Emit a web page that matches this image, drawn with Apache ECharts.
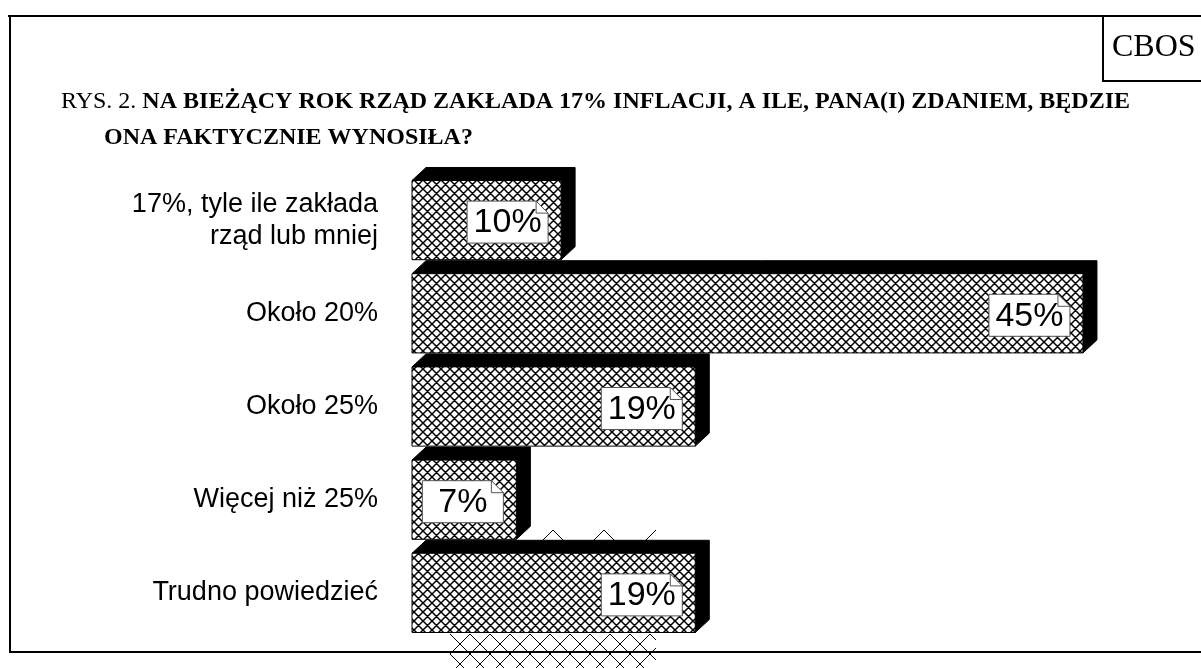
<!DOCTYPE html>
<html>
<head>
<meta charset="utf-8">
<script src="https://cdn.jsdelivr.net/npm/echarts@6/dist/echarts.min.js"></script>
<style>
html,body{margin:0;padding:0;background:#fff;}
#chart{width:1201px;height:668px;}
</style>
</head>
<body>
<div id="chart"></div>
<script>
const categories = ['17%, tyle ile zakłada\nrząd lub mniej', 'Około 20%', 'Około 25%', 'Więcej niż 25%', 'Trudno powiedzieć'];
const values = [10, 45, 19, 7, 19];
const titleLine1Regular = 'RYS. 2. ';
const titleLine1Bold = 'NA BIEŻĄCY ROK RZĄD ZAKŁADA 17% INFLACJI, A ILE, PANA(I) ZDANIEM, BĘDZIE';
const titleLine2Bold = 'ONA FAKTYCZNIE WYNOSIŁA?';
const sourceLabel = 'CBOS';

// crosshatch pattern
const P = 9;
const pc = document.createElement('canvas');
pc.width = P; pc.height = P;
const g = pc.getContext('2d');
g.fillStyle = '#fff'; g.fillRect(0, 0, P, P);
g.strokeStyle = '#000'; g.lineWidth = 1.5;
g.beginPath();
g.moveTo(-2, -2); g.lineTo(P + 2, P + 2);
g.moveTo(-2, P + 2); g.lineTo(P + 2, -2);
g.moveTo(-2, P - 2); g.lineTo(2, P + 2);
g.moveTo(P - 2, -2); g.lineTo(P + 2, 2);
g.moveTo(-2, 2); g.lineTo(2, -2);
g.moveTo(P - 2, P + 2); g.lineTo(P + 2, P - 2);
g.stroke();
const hatch = { image: pc, repeat: 'repeat' };

const chart = echarts.init(document.getElementById('chart'), null, { renderer: 'canvas' });

function renderItem(params, api) {
  const v = api.value(0);
  const cat = api.value(1);
  const s = api.coord([0, cat]);
  const e = api.coord([v, cat]);
  const band = api.size([0, 1])[1];
  const h = band * 0.85;
  const x0 = s[0], x1 = e[0], yc = s[1];
  const y0 = yc - h / 2, y1 = yc + h / 2;
  const dx = 14, dy = 13;
  const R = x1 - 13, W = 81, H = 42;
  const L = R - W, T = yc + 2 - H / 2, B = T + H;
  const f = 12;
  return {
    type: 'group',
    children: [
      { type: 'polygon', shape: { points: [[x0, y0], [x0 + dx, y0 - dy], [x1 + dx, y0 - dy], [x1 + dx, y1 - dy], [x1, y1], [x1, y0]] }, style: { fill: '#000', stroke: '#000', lineWidth: 1 } },
      { type: 'rect', shape: { x: x0, y: y0, width: x1 - x0, height: y1 - y0 }, style: { fill: hatch, stroke: '#000', lineWidth: 1 } },
      { type: 'polygon', shape: { points: [[L, T], [R - f, T], [R, T + f], [R, B], [L, B]] }, style: { fill: '#fff', stroke: '#555', lineWidth: 1 } },
      { type: 'polygon', shape: { points: [[R - f, T], [R - f, T + f], [R, T + f]] }, style: { fill: '#fff', stroke: '#555', lineWidth: 1 } },
      { type: 'text', style: { x: (L + R) / 2, y: (T + B) / 2 + 1, text: v + '%', fill: '#000', font: '34px "Liberation Sans", Arial, sans-serif', align: 'center', verticalAlign: 'middle' } }
    ]
  };
}

// decorative stray hatch lines (artifact in the original picture)
const deco = [];
(function () {
  const xl = 450, xr = 656, yt = 634, yb = 668;
  for (let k = -4; k < 14; k++) {
    const bx = xl + 20 * k;
    [[[bx, yt], [bx + (yb - yt), yb]], [[bx, yt], [bx - (yb - yt), yb]]].forEach(function (seg) {
      const a = seg[0], b = seg[1];
      const sl = (b[1] - a[1]) / (b[0] - a[0]);
      const lo = Math.min(a[0], b[0]), hi = Math.max(a[0], b[0]);
      const cl = Math.max(lo, xl), ch = Math.min(hi, xr);
      if (ch - cl > 1) {
        deco.push({ type: 'line', shape: { x1: cl, y1: a[1] + sl * (cl - a[0]), x2: ch, y2: a[1] + sl * (ch - a[0]) }, style: { stroke: '#000', lineWidth: 1 }, z: -1 });
      }
    });
  }
  [553, 604].forEach(function (px) {
    deco.push({ type: 'polyline', shape: { points: [[px - 11, 541], [px, 530], [px + 11, 541]] }, style: { stroke: '#000', fill: null, lineWidth: 1 }, z: -1 });
  });
  deco.push({ type: 'line', shape: { x1: 645, y1: 541, x2: 656, y2: 530 }, style: { stroke: '#000', lineWidth: 1 }, z: -1 });
})();

const serif = '"Liberation Serif", "Times New Roman", serif';
const option = {
  backgroundColor: '#fff',
  animation: false,
  title: [
    {
      left: 61, top: 90, padding: 0,
      text: '{r|' + titleLine1Regular + '}{b|' + titleLine1Bold + '}',
      textStyle: { rich: {
        r: { fontFamily: serif, fontSize: 24, fontWeight: 'normal', color: '#000', lineHeight: 24 },
        b: { fontFamily: serif, fontSize: 24, fontWeight: 'bold', color: '#000', lineHeight: 24 }
      } }
    },
    {
      left: 104, top: 126, padding: 0,
      text: '{b|' + titleLine2Bold + '}',
      textStyle: { rich: {
        b: { fontFamily: serif, fontSize: 24, fontWeight: 'bold', color: '#000', lineHeight: 24 }
      } }
    }
  ],
  graphic: [
    { type: 'line', shape: { x1: 8, y1: 16, x2: 1201, y2: 16 }, style: { stroke: '#000', lineWidth: 2 } },
    { type: 'line', shape: { x1: 10, y1: 15, x2: 10, y2: 653 }, style: { stroke: '#000', lineWidth: 2 } },
    { type: 'line', shape: { x1: 9, y1: 652, x2: 1201, y2: 652 }, style: { stroke: '#000', lineWidth: 2 } },
    { type: 'line', shape: { x1: 1103, y1: 16, x2: 1103, y2: 81 }, style: { stroke: '#000', lineWidth: 2 } },
    { type: 'line', shape: { x1: 1102, y1: 81, x2: 1201, y2: 81 }, style: { stroke: '#000', lineWidth: 2 } },
    { type: 'text', style: { x: 1112, y: 48, text: sourceLabel, fill: '#000', font: '32px ' + serif, align: 'left', verticalAlign: 'middle' } }
  ].concat(deco),
  grid: { left: 412, right: 43.5, top: 173.5, bottom: 28.5, containLabel: false },
  xAxis: { type: 'value', min: 0, max: 50, show: false },
  yAxis: {
    type: 'category', data: categories, inverse: true,
    axisLine: { show: false }, axisTick: { show: false }, splitLine: { show: false },
    axisLabel: { color: '#000', fontSize: 27, fontFamily: '"Liberation Sans", Arial, sans-serif', margin: 34, lineHeight: 32, align: 'right' }
  },
  series: [{
    type: 'custom',
    renderItem: renderItem,
    clip: false,
    encode: { x: 0, y: 1 },
    data: values.map(function (v, i) { return [v, i]; })
  }]
};
chart.setOption(option);
</script>
</body>
</html>
